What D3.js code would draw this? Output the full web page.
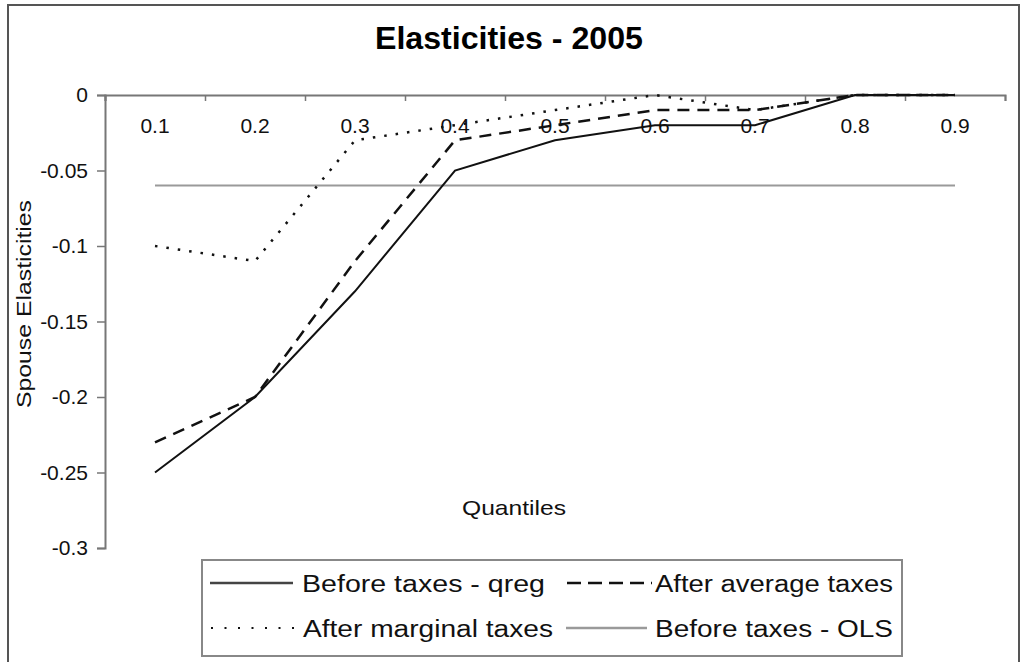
<!DOCTYPE html>
<html>
<head>
<meta charset="utf-8">
<script src="https://cdn.jsdelivr.net/npm/d3@7/dist/d3.min.js"></script>
<style>
  html, body { margin: 0; padding: 0; background: #fff; }
  svg { display: block; font-family: "Liberation Sans", Arial, Helvetica, sans-serif; }
</style>
</head>
<body>
<svg id="chart" width="1023" height="662"></svg>
<script>
// ---- Data ----
const categories = ["0.1", "0.2", "0.3", "0.4", "0.5", "0.6", "0.7", "0.8", "0.9"];
const beforeQreg    = [-0.25, -0.20, -0.13, -0.05, -0.03, -0.02, -0.02, 0, 0];
const afterAverage  = [-0.23, -0.20, -0.11, -0.03, -0.02, -0.01, -0.01, 0, 0];
const afterMarginal = [-0.10, -0.11, -0.03, -0.02, -0.01, 0, -0.01, 0, 0];
const beforeOLS     = [-0.06, -0.06, -0.06, -0.06, -0.06, -0.06, -0.06, -0.06, -0.06];
const yTickValues = [0, -0.05, -0.1, -0.15, -0.2, -0.25, -0.3];
const yTickLabels = ["0", "-0.05", "-0.1", "-0.15", "-0.2", "-0.25", "-0.3"];
const seriesNames = ["Before taxes - qreg", "After average taxes", "After marginal taxes", "Before taxes - OLS"];
const titleText = "Elasticities - 2005";
const xTitle = "Quantiles";
const yTitle = "Spouse Elasticities";

(function () {
const svg = d3.select("#chart");
const mLeft = 105, mRight = 1005, mTop = 95, mBottom = 548;

const x = d3.scaleBand().domain(categories).range([mLeft, mRight]).padding(0);
const xc = c => x(c) + x.bandwidth() / 2;
const y = d3.scaleLinear().domain([-0.3, 0]).range([mBottom, mTop]);

// Outer border
svg.append("rect")
  .attr("x", 8).attr("y", 5).attr("width", 1011).attr("height", 700)
  .attr("fill", "none").attr("stroke", "#555").attr("stroke-width", 2);

// Title
svg.append("text")
  .attr("x", 509).attr("y", 49)
  .attr("text-anchor", "middle")
  .attr("font-size", 31).attr("font-weight", "bold")
  .attr("textLength", 268).attr("lengthAdjust", "spacingAndGlyphs")
  .text(titleText);

// Y axis
const yAxis = d3.axisLeft(y)
  .tickValues(yTickValues)
  .tickFormat((d, i) => yTickLabels[i])
  .tickSize(8).tickPadding(9);
const gy = svg.append("g").attr("transform", `translate(${mLeft},0)`).call(yAxis);
gy.select(".domain").attr("stroke", "#777").attr("stroke-width", 2);
gy.selectAll(".tick line").attr("stroke", "#777").attr("stroke-width", 1.5);
gy.selectAll(".tick text").attr("font-size", 21).attr("fill", "#111")
  .attr("font-family", "Liberation Sans, Arial, sans-serif");

// X axis (labels at category centres, ticks at category boundaries)
const xAxis = d3.axisBottom(x).tickSize(0).tickPadding(23);
const gx = svg.append("g").attr("transform", `translate(0,${y(0)})`).call(xAxis);
gx.select(".domain").remove();
gx.selectAll(".tick text").attr("font-size", 21).attr("fill", "#111")
  .attr("font-family", "Liberation Sans, Arial, sans-serif");

const xIdx = d3.scaleLinear().domain([0, categories.length]).range([mLeft, mRight]);
const xAxis2 = d3.axisBottom(xIdx).ticks(categories.length).tickSize(6).tickSizeOuter(6).tickFormat("");
const gx2 = svg.append("g").attr("transform", `translate(0,${y(0)})`).call(xAxis2);
gx2.select(".domain").attr("stroke", "#777").attr("stroke-width", 2);
gx2.selectAll(".tick line").attr("stroke", "#777").attr("stroke-width", 1.5);

// Axis titles
svg.append("text")
  .attr("x", 514).attr("y", 515)
  .attr("text-anchor", "middle").attr("font-size", 21).attr("fill", "#111")
  .attr("textLength", 104).attr("lengthAdjust", "spacingAndGlyphs")
  .text(xTitle);
svg.append("text")
  .attr("transform", "translate(31,304) rotate(-90)")
  .attr("text-anchor", "middle").attr("font-size", 20).attr("fill", "#111")
  .attr("textLength", 208).attr("lengthAdjust", "spacingAndGlyphs")
  .text(yTitle);

// Series
const styles = [
  { data: beforeQreg,    stroke: "#111", width: 2,   dash: null },
  { data: afterAverage,  stroke: "#111", width: 2.5, dash: "12,8" },
  { data: afterMarginal, stroke: "#111", width: 2.5, dash: "2.5,9" },
  { data: beforeOLS,     stroke: "#9a9a9a", width: 2, dash: null }
];
const line = d3.line().x((d, i) => xc(categories[i])).y(d => y(d));
[3, 2, 1, 0].forEach(k => {
  const s = styles[k];
  svg.append("path")
    .datum(s.data)
    .attr("d", line)
    .attr("fill", "none")
    .attr("stroke", s.stroke)
    .attr("stroke-width", s.width)
    .attr("stroke-dasharray", s.dash);
});

// Legend
svg.append("rect")
  .attr("x", 202).attr("y", 560).attr("width", 700).attr("height", 96)
  .attr("fill", "#fff").attr("stroke", "#888").attr("stroke-width", 2);

const legendItems = [
  { k: 0, x1: 210, x2: 293, tx: 302, ly: 583, tl: 243, stroke: "#444", w: 2.5, dash: null },
  { k: 1, x1: 567, x2: 652, tx: 655, ly: 583, tl: 238, stroke: "#111", w: 2.5, dash: "14,7" },
  { k: 2, x1: 211, x2: 294, tx: 303, ly: 628, tl: 250, stroke: "#111", w: 2, dash: "2,11.5" },
  { k: 3, x1: 566, x2: 647, tx: 655, ly: 628, tl: 238, stroke: "#9a9a9a", w: 2.5, dash: null }
];
legendItems.forEach(it => {
  svg.append("line")
    .attr("x1", it.x1).attr("x2", it.x2).attr("y1", it.ly).attr("y2", it.ly)
    .attr("stroke", it.stroke)
    .attr("stroke-width", it.w)
    .attr("stroke-dasharray", it.dash);
  svg.append("text")
    .attr("x", it.tx).attr("y", it.ly + 9)
    .attr("font-size", 23).attr("fill", "#111")
    .attr("textLength", it.tl).attr("lengthAdjust", "spacingAndGlyphs")
    .text(seriesNames[it.k]);
});
})();
</script>
</body>
</html>
